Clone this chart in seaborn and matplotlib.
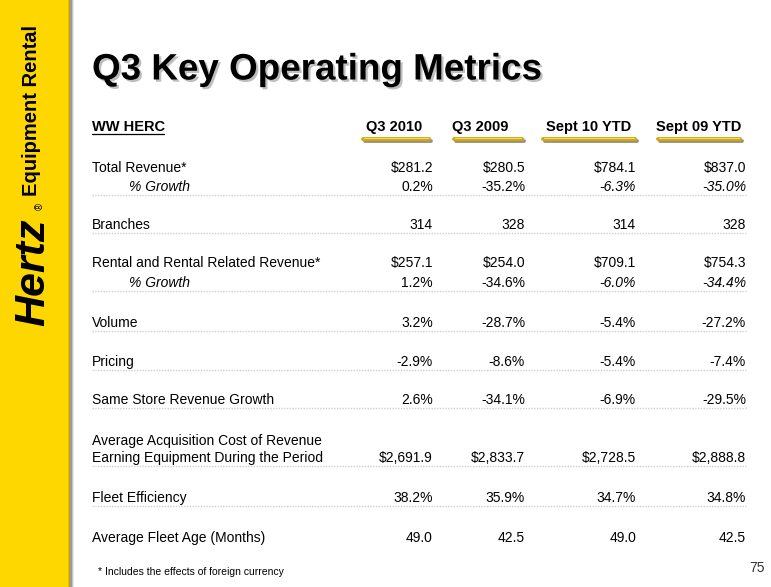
import matplotlib.pyplot as plt
import matplotlib.patheffects as pe
from matplotlib.patches import Rectangle
import seaborn as sns

sns.set_theme(style='white')
plt.rcParams['font.family'] = ['Liberation Sans', 'DejaVu Sans']

# ---- data ----
title = 'Q3 Key Operating Metrics'
section = 'WW HERC'
columns = ['Q3 2010', 'Q3 2009', 'Sept 10 YTD', 'Sept 09 YTD']
row_labels = ['Total Revenue*', '% Growth', 'Branches',
              'Rental and Rental Related Revenue*', '% Growth',
              'Volume', 'Pricing', 'Same Store Revenue Growth',
              'Average Acquisition Cost of Revenue\nEarning Equipment During the Period',
              'Fleet Efficiency', 'Average Fleet Age (Months)']
q3_2010 = ['$281.2', '0.2%', '314', '$257.1', '1.2%', '3.2%', '-2.9%', '2.6%',
           '$2,691.9', '38.2%', '49.0']
q3_2009 = ['$280.5', '-35.2%', '328', '$254.0', '-34.6%', '-28.7%', '-8.6%', '-34.1%',
           '$2,833.7', '35.9%', '42.5']
sept10_ytd = ['$784.1', '-6.3%', '314', '$709.1', '-6.0%', '-5.4%', '-5.4%', '-6.9%',
              '$2,728.5', '34.7%', '49.0']
sept09_ytd = ['$837.0', '-35.0%', '328', '$754.3', '-34.4%', '-27.2%', '-7.4%', '-29.5%',
              '$2,888.8', '34.8%', '42.5']
footnote = '* Includes the effects of foreign currency'
page_no = '75'

# ---- layout (pixels) ----
W, H = 771, 587
row_y = [168, 187, 225, 263, 283, 323, 362, 400, 458, 498, 538]
rule_after = [1, 2, 4, 5, 6, 7, 8, 9]
growth_rows = [1, 4]
col_right = [433, 525, 636, 746]
col_center = [394, 480, 589, 699]
bar_span = [(363, 429), (454, 522), (543, 635), (658, 740)]
header_y = 127
label_x = 92
indent_x = 129

fig = plt.figure(figsize=(W / 100, H / 100), dpi=100)
ax = fig.add_axes([0, 0, 1, 1])
ax.set_xlim(0, W)
ax.set_ylim(H, 0)
ax.axis('off')

# yellow side band with shadow
ax.add_patch(Rectangle((0, 0), 70, H, color='#FFD700', zorder=1))
for i, c in enumerate(['#E6BE00', '#C9A400', '#9a9a9a', '#c8c8c8', '#e6e6e6']):
    ax.add_patch(Rectangle((68 + i * 1.2, 0), 1.2, H, color=c, zorder=1, lw=0))

# logo
ax.text(33, 326, 'Hertz', rotation=90, ha='center', va='bottom', fontsize=31,
        fontweight='heavy', fontstyle='italic', color='black', zorder=3)
ax.text(40, 206, '\u00ae', rotation=90, ha='center', va='center', fontsize=7,
        color='black', zorder=3)
ax.text(32, 196, 'Equipment Rental', rotation=90, ha='center', va='bottom',
        fontsize=14.5, fontweight='bold', color='black', zorder=3)

# title with drop shadow
ax.text(label_x, 70, title, fontsize=26.5, fontweight='bold', color='black',
        ha='left', va='center', zorder=3,
        path_effects=[pe.withSimplePatchShadow(offset=(1.6, -1.6),
                                               shadow_rgbFace='#8a8a8a', alpha=0.55)])

# header row
ax.text(label_x, header_y, section, fontsize=10.5, fontweight='bold', ha='left',
        va='center', color='black')
ax.plot([label_x, label_x + 72], [header_y + 7, header_y + 7], color='black', lw=0.9)
for name, cx, (x0, x1) in zip(columns, col_center, bar_span):
    ax.text(cx, header_y, name, fontsize=10.5, fontweight='bold', ha='center',
            va='center', color='black')
    ax.plot([x0 + 2, x1 + 2], [140.8, 140.8], color='#4a3d10', lw=2.8,
            alpha=0.55, solid_capstyle='round')
    ax.plot([x0, x1], [139, 139], color='#D2A80E', lw=2.8, solid_capstyle='round')
    ax.plot([x0 + 1, x1 - 1], [138.2, 138.2], color='#F2DC6A', lw=0.8,
            solid_capstyle='round')

# body
table = [q3_2010, q3_2009, sept10_ytd, sept09_ytd]
for r, (label, y) in enumerate(zip(row_labels, row_y)):
    growth = r in growth_rows
    lines = label.split('\n')
    for k, line in enumerate(lines):
        ly = y - 17 * (len(lines) - 1 - k)
        ax.text(indent_x if growth else label_x, ly, line, fontsize=10,
                fontstyle='italic' if growth else 'normal', ha='left',
                va='center', color='black')
    for c, (vals, xr) in enumerate(zip(table, col_right)):
        ax.text(xr, y, vals[r], fontsize=10, ha='right', va='center', color='black',
                fontstyle='italic' if (growth and c >= 2) else 'normal')
    if r in rule_after:
        ax.plot([label_x, 746], [y + 8, y + 8], color='#cfcfcf', lw=1,
                linestyle=(0, (1, 1)))

# footnote and page number
ax.text(98, 572, footnote, fontsize=7.5, ha='left', va='center', color='black')
ax.text(765, 568, page_no, fontsize=10, ha='right', va='center', color='#333333')

fig.savefig('out.png', dpi=100)
